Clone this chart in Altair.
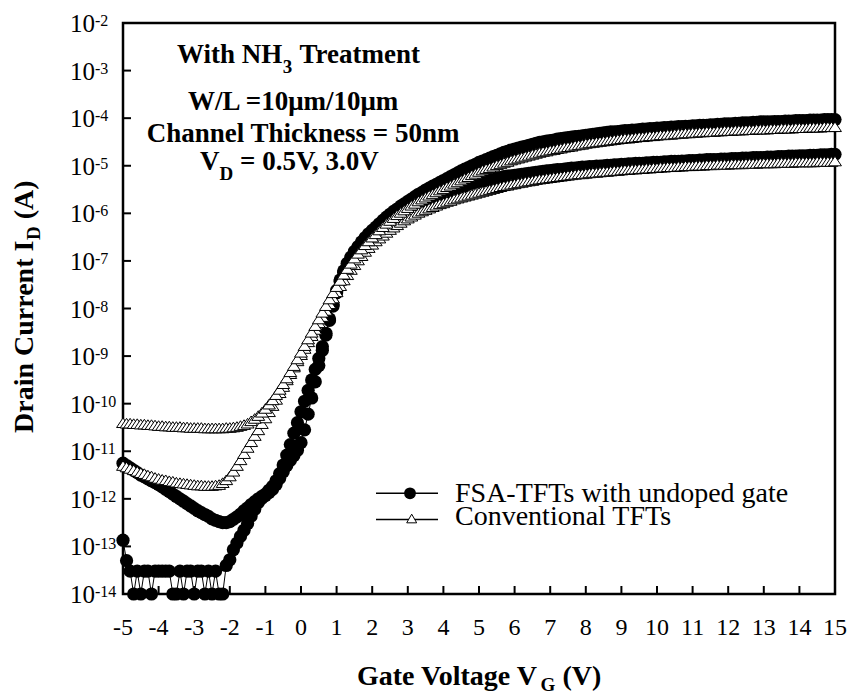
import altair as alt
import pandas as pd

# Gate-voltage sweep: -5 V to 15 V in 0.1 V steps (201 points)
vg = [round(-5 + 0.1 * i, 1) for i in range(201)]

# log10 of drain current, one value per 0.1 V
fsa_05 = [
    -12.87, -13.30, -13.52, -14.00, -13.52, -14.00, -13.52, -13.52, -14.00, -13.52,
    -13.52, -13.52, -13.52, -13.52, -14.00, -14.00, -13.52, -14.00, -13.52, -13.52,
    -14.00, -13.52, -13.52, -14.00, -13.52, -14.00, -13.52, -14.00, -14.00, -13.40,
    -13.28, -13.07, -12.93, -12.79, -12.66, -12.52, -12.36, -12.22, -12.08, -11.99,
    -11.93, -11.87, -11.80, -11.70, -11.57, -11.43, -11.30, -11.19, -11.09, -10.98,
    -10.82, -10.55, -10.22, -9.88, -9.54, -9.20, -8.88, -8.56, -8.25, -7.95,
    -7.67, -7.43, -7.24, -7.09, -6.97, -6.87, -6.78, -6.70, -6.63, -6.56,
    -6.50, -6.43, -6.37, -6.31, -6.25, -6.20, -6.15, -6.10, -6.05, -6.00,
    -5.96, -5.92, -5.88, -5.84, -5.80, -5.76, -5.72, -5.69, -5.65, -5.62,
    -5.58, -5.55, -5.52, -5.49, -5.47, -5.44, -5.42, -5.39, -5.37, -5.35,
    -5.33, -5.32, -5.30, -5.29, -5.27, -5.26, -5.25, -5.23, -5.22, -5.21,
    -5.20, -5.19, -5.18, -5.17, -5.16, -5.15, -5.14, -5.13, -5.12, -5.11,
    -5.10, -5.09, -5.08, -5.08, -5.07, -5.06, -5.05, -5.05, -5.04, -5.03,
    -5.03, -5.02, -5.02, -5.01, -5.01, -5.00, -4.99, -4.99, -4.98, -4.98,
    -4.97, -4.97, -4.96, -4.96, -4.95, -4.95, -4.95, -4.94, -4.94, -4.93,
    -4.93, -4.93, -4.92, -4.92, -4.91, -4.91, -4.91, -4.90, -4.90, -4.89,
    -4.89, -4.89, -4.88, -4.88, -4.87, -4.87, -4.87, -4.87, -4.86, -4.86,
    -4.86, -4.85, -4.85, -4.85, -4.84, -4.84, -4.84, -4.83, -4.83, -4.83,
    -4.83, -4.82, -4.82, -4.82, -4.81, -4.81, -4.81, -4.80, -4.80, -4.80,
    -4.79, -4.79, -4.79, -4.78, -4.78, -4.78, -4.77, -4.77, -4.77, -4.76,
    -4.76,
]

fsa_30 = [
    -11.25, -11.30, -11.35, -11.40, -11.45, -11.50, -11.54, -11.58, -11.62, -11.66,
    -11.70, -11.75, -11.80, -11.85, -11.90, -11.95, -12.00, -12.05, -12.10, -12.15,
    -12.20, -12.25, -12.29, -12.33, -12.37, -12.42, -12.45, -12.48, -12.50, -12.50,
    -12.48, -12.43, -12.38, -12.32, -12.25, -12.19, -12.12, -12.06, -12.00, -11.95,
    -11.90, -11.82, -11.74, -11.62, -11.47, -11.29, -11.08, -10.86, -10.62, -10.40,
    -10.17, -9.95, -9.72, -9.50, -9.28, -9.05, -8.80, -8.52, -8.22, -7.92,
    -7.62, -7.40, -7.21, -7.05, -6.92, -6.80, -6.70, -6.60, -6.51, -6.43,
    -6.36, -6.29, -6.22, -6.15, -6.08, -6.02, -5.96, -5.91, -5.85, -5.80,
    -5.75, -5.70, -5.65, -5.60, -5.56, -5.51, -5.47, -5.43, -5.39, -5.35,
    -5.31, -5.27, -5.23, -5.19, -5.15, -5.11, -5.07, -5.04, -5.00, -4.97,
    -4.93, -4.90, -4.87, -4.84, -4.81, -4.78, -4.75, -4.72, -4.70, -4.67,
    -4.65, -4.63, -4.61, -4.59, -4.57, -4.55, -4.53, -4.51, -4.50, -4.48,
    -4.47, -4.46, -4.44, -4.43, -4.42, -4.41, -4.40, -4.39, -4.38, -4.37,
    -4.36, -4.35, -4.34, -4.33, -4.32, -4.31, -4.30, -4.29, -4.29, -4.28,
    -4.27, -4.26, -4.26, -4.25, -4.25, -4.24, -4.23, -4.23, -4.22, -4.22,
    -4.21, -4.21, -4.20, -4.20, -4.19, -4.19, -4.18, -4.18, -4.17, -4.17,
    -4.16, -4.16, -4.15, -4.15, -4.15, -4.14, -4.14, -4.13, -4.13, -4.12,
    -4.12, -4.12, -4.11, -4.11, -4.10, -4.10, -4.10, -4.09, -4.09, -4.08,
    -4.08, -4.08, -4.08, -4.07, -4.07, -4.07, -4.06, -4.06, -4.06, -4.05,
    -4.05, -4.05, -4.05, -4.04, -4.04, -4.04, -4.04, -4.03, -4.03, -4.03,
    -4.03,
]

conv_30 = [
    -10.40, -10.41, -10.41, -10.42, -10.42, -10.43, -10.43, -10.44, -10.44, -10.45,
    -10.46, -10.46, -10.47, -10.47, -10.48, -10.48, -10.48, -10.49, -10.49, -10.50,
    -10.50, -10.50, -10.50, -10.51, -10.51, -10.51, -10.51, -10.51, -10.51, -10.50,
    -10.50, -10.49, -10.48, -10.46, -10.44, -10.41, -10.36, -10.31, -10.25, -10.18,
    -10.10, -10.01, -9.92, -9.81, -9.70, -9.58, -9.46, -9.33, -9.20, -9.06,
    -8.92, -8.78, -8.64, -8.50, -8.36, -8.22, -8.08, -7.94, -7.80, -7.67,
    -7.54, -7.41, -7.28, -7.16, -7.05, -6.94, -6.84, -6.75, -6.66, -6.58,
    -6.50, -6.43, -6.35, -6.28, -6.21, -6.15, -6.09, -6.03, -5.98, -5.93,
    -5.88, -5.83, -5.79, -5.74, -5.70, -5.66, -5.62, -5.59, -5.55, -5.51,
    -5.48, -5.44, -5.41, -5.37, -5.34, -5.30, -5.26, -5.23, -5.19, -5.16,
    -5.12, -5.09, -5.06, -5.04, -5.01, -4.98, -4.96, -4.93, -4.91, -4.88,
    -4.86, -4.84, -4.82, -4.80, -4.78, -4.76, -4.74, -4.72, -4.70, -4.69,
    -4.67, -4.66, -4.64, -4.63, -4.61, -4.60, -4.59, -4.57, -4.56, -4.55,
    -4.53, -4.52, -4.51, -4.50, -4.49, -4.48, -4.47, -4.46, -4.45, -4.44,
    -4.43, -4.42, -4.42, -4.41, -4.40, -4.39, -4.39, -4.38, -4.37, -4.37,
    -4.36, -4.35, -4.35, -4.34, -4.34, -4.33, -4.32, -4.32, -4.31, -4.31,
    -4.30, -4.30, -4.29, -4.29, -4.28, -4.28, -4.28, -4.27, -4.27, -4.26,
    -4.26, -4.26, -4.25, -4.25, -4.25, -4.24, -4.24, -4.24, -4.23, -4.23,
    -4.23, -4.23, -4.22, -4.22, -4.22, -4.21, -4.21, -4.21, -4.21, -4.20,
    -4.20, -4.20, -4.20, -4.19, -4.19, -4.19, -4.19, -4.18, -4.18, -4.18,
    -4.18,
]

conv_05 = [
    -11.30, -11.33, -11.36, -11.39, -11.42, -11.45, -11.47, -11.50, -11.52, -11.55,
    -11.57, -11.59, -11.60, -11.62, -11.63, -11.65, -11.66, -11.67, -11.68, -11.69,
    -11.70, -11.71, -11.71, -11.72, -11.72, -11.72, -11.71, -11.70, -11.66, -11.60,
    -11.52, -11.42, -11.30, -11.18, -11.05, -10.92, -10.80, -10.67, -10.55, -10.42,
    -10.30, -10.17, -10.04, -9.91, -9.77, -9.64, -9.50, -9.37, -9.23, -9.10,
    -8.97, -8.84, -8.70, -8.57, -8.44, -8.30, -8.17, -8.04, -7.90, -7.78,
    -7.65, -7.52, -7.40, -7.29, -7.18, -7.08, -6.98, -6.89, -6.80, -6.72,
    -6.65, -6.58, -6.52, -6.46, -6.40, -6.34, -6.29, -6.24, -6.19, -6.14,
    -6.10, -6.06, -6.02, -5.98, -5.95, -5.92, -5.89, -5.86, -5.83, -5.80,
    -5.78, -5.75, -5.73, -5.70, -5.68, -5.66, -5.64, -5.62, -5.60, -5.58,
    -5.56, -5.54, -5.52, -5.50, -5.48, -5.46, -5.44, -5.42, -5.41, -5.39,
    -5.38, -5.36, -5.35, -5.33, -5.32, -5.31, -5.29, -5.28, -5.27, -5.26,
    -5.25, -5.24, -5.23, -5.22, -5.21, -5.20, -5.19, -5.18, -5.17, -5.17,
    -5.16, -5.15, -5.14, -5.14, -5.13, -5.12, -5.12, -5.11, -5.10, -5.10,
    -5.09, -5.08, -5.08, -5.07, -5.07, -5.06, -5.06, -5.05, -5.05, -5.04,
    -5.04, -5.03, -5.03, -5.02, -5.02, -5.02, -5.01, -5.01, -5.00, -5.00,
    -5.00, -4.99, -4.99, -4.99, -4.98, -4.98, -4.98, -4.97, -4.97, -4.97,
    -4.97, -4.96, -4.96, -4.96, -4.96, -4.95, -4.95, -4.95, -4.95, -4.94,
    -4.94, -4.94, -4.94, -4.94, -4.93, -4.93, -4.93, -4.93, -4.93, -4.92,
    -4.92, -4.92, -4.92, -4.92, -4.92, -4.91, -4.91, -4.91, -4.91, -4.91,
    -4.90,
]

series = {
    "FSA 0.5V": fsa_05,
    "FSA 3.0V": fsa_30,
    "Conv 0.5V": conv_05,
    "Conv 3.0V": conv_30,
}

x_ticks = list(range(-5, 16))
x_labels = [str(t) for t in x_ticks]
y_exps = list(range(-2, -15, -1))

rows = []
for name, logs in series.items():
    kind = "FSA" if name.startswith("FSA") else "Conv"
    for v, lg in zip(vg, logs):
        rows.append({"V": v, "I": 10.0 ** lg, "series": name, "kind": kind})
df = pd.DataFrame(rows)

W, H = 712, 571
FONT = "Liberation Serif"
TRI = "M0,-0.75L1,0.75L-1,0.75Z"

xs = alt.Scale(domain=[-5, 15], nice=False, zero=False)
ys = alt.Scale(type="log", domain=[1e-14, 1e-2], nice=False)

base = alt.Chart(df)
lines = base.mark_line(color="black", strokeWidth=1).encode(
    x=alt.X("V:Q", scale=xs, axis=None),
    y=alt.Y("I:Q", scale=ys, axis=None),
    detail="series:N",
)
circles = base.transform_filter(alt.datum.kind == "FSA").mark_point(
    shape="circle", filled=True, color="black", size=175, opacity=1
).encode(x=alt.X("V:Q", scale=xs, axis=None), y=alt.Y("I:Q", scale=ys, axis=None))
tris = base.transform_filter(alt.datum.kind == "Conv").mark_point(
    shape=TRI, filled=True, fill="white", stroke="black", strokeWidth=1,
    size=165, opacity=1
).encode(x=alt.X("V:Q", scale=xs, axis=None), y=alt.Y("I:Q", scale=ys, axis=None))

xt_df = pd.DataFrame({"tick": x_ticks, "label": x_labels})
yt_df = pd.DataFrame({"val": [10.0 ** e for e in y_exps], "exp": [str(e) for e in y_exps]})

xticks = alt.Chart(xt_df).mark_rule(color="black", strokeWidth=2).encode(
    x=alt.X("tick:Q", scale=xs, axis=None), y=alt.value(H), y2=alt.value(H - 8)
)
yticks = alt.Chart(yt_df).mark_rule(color="black", strokeWidth=2).encode(
    y=alt.Y("val:Q", scale=ys, axis=None), x=alt.value(0), x2=alt.value(8)
)
xlabels = alt.Chart(xt_df).mark_text(
    font=FONT, fontSize=24, align="center", baseline="alphabetic", dy=41, color="black"
).encode(x=alt.X("tick:Q", scale=xs, axis=None), y=alt.value(H), text="label:N")
ylab10 = alt.Chart(yt_df).mark_text(
    font=FONT, fontSize=25, align="right", baseline="alphabetic", dy=9, color="black"
).encode(y=alt.Y("val:Q", scale=ys, axis=None), x=alt.value(-28), text=alt.value("10"))
ylabexp = alt.Chart(yt_df).mark_text(
    font=FONT, fontSize=16, align="left", baseline="alphabetic", dy=3, color="black"
).encode(y=alt.Y("val:Q", scale=ys, axis=None), x=alt.value(-28), text="exp:N")

one = pd.DataFrame({"k": [0]})


def txt(s, x, y, size, bold=False, dy=0, angle=0):
    kw = dict(text=s, font=FONT, fontSize=size, align="left", baseline="alphabetic",
              color="black", fontWeight="bold" if bold else "normal")
    if dy:
        kw["dy"] = dy
    if angle:
        kw["angle"] = angle
    return alt.Chart(one).mark_text(**kw).encode(x=alt.value(x), y=alt.value(y))


ann = [
    # annotation block
    txt("With NH", 54, 40.3, 27, True),
    txt("3", 159.8, 40.3, 19, True, dy=10),
    txt("Treatment", 176.5, 40.3, 27, True),
    txt("W/L =10\u03bcm/10\u03bcm", 65, 87, 27, True),
    txt("Channel Thickness = 50nm", 23.7, 118.7, 27, True),
    txt("V", 77, 147, 27, True),
    txt("D", 96.5, 147, 19, True, dy=10),
    txt("= 0.5V, 3.0V", 117, 147, 27, True),
    # x title
    txt("Gate Voltage V", 234, 662, 28, True),
    txt("G", 417.6, 662, 19, True, dy=6),
    txt("(V)", 439.4, 662, 28, True),
    # y title (rotated)
    txt("Drain Current I", -90, 410, 28, True, angle=270),
    txt("D", -90, 217, 19, True, dy=7, angle=270),
    txt("(A)", -90, 196.3, 28, True, angle=270),
    # legend text
    txt("FSA-TFTs with undoped gate", 332, 478.7, 28),
    txt("Conventional TFTs", 332, 502, 28),
]

leg_line1 = alt.Chart(one).mark_rule(color="black", strokeWidth=1.5).encode(
    x=alt.value(253), x2=alt.value(315), y=alt.value(470.3)
)
leg_line2 = alt.Chart(one).mark_rule(color="black", strokeWidth=1.5).encode(
    x=alt.value(253), x2=alt.value(315), y=alt.value(496.5)
)
leg_c = alt.Chart(one).mark_point(
    shape="circle", filled=True, color="black", size=140, opacity=1
).encode(x=alt.value(287), y=alt.value(470.3))
leg_t = alt.Chart(one).mark_point(
    shape="triangle-up", filled=True, fill="white", stroke="black", strokeWidth=1,
    size=100, opacity=1
).encode(x=alt.value(288.7), y=alt.value(495.5))

chart = alt.layer(
    lines, circles, tris, xticks, yticks, xlabels, ylab10, ylabexp,
    leg_line1, leg_line2, leg_c, leg_t, *ann
).properties(
    width=W, height=H,
    autosize=alt.AutoSizeParams(type="none"),
    padding={"left": 123, "top": 23, "right": 17, "bottom": 101},
    background="white",
).configure_view(stroke="black", strokeWidth=2.5)

chart.save("out.html", embed_options={"renderer": "svg", "actions": False})
